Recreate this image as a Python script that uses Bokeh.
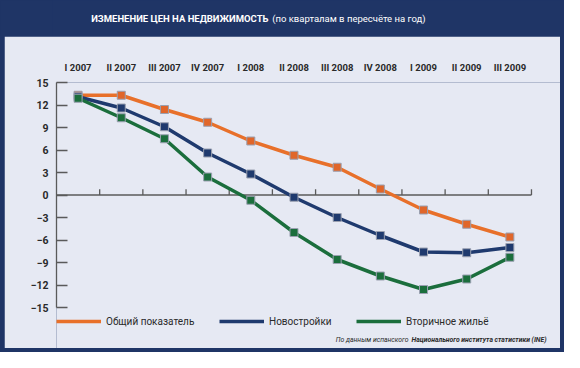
from bokeh.plotting import figure
from bokeh.layouts import column
from bokeh.models import Range1d, FixedTicker, Legend, LegendItem, Label
from bokeh.core.properties import value
from bokeh.embed import file_html
from bokeh.resources import INLINE

# ---------------- data ----------------
quarters = ["I 2007", "II 2007", "III 2007", "IV 2007", "I 2008", "II 2008",
            "III 2008", "IV 2008", "I 2009", "II 2009", "III 2009"]
overall = [13.3, 13.3, 11.4, 9.7, 7.2, 5.3, 3.7, 0.8, -2.0, -3.9, -5.6]
new_build = [13.1, 11.6, 9.1, 5.6, 2.8, -0.3, -3.0, -5.4, -7.6, -7.7, -7.0]
secondary = [12.9, 10.3, 7.5, 2.4, -0.7, -5.0, -8.6, -10.8, -12.6, -11.2, -8.3]
y_ticks = [-15, -12, -9, -6, -3, 0, 3, 6, 9, 12, 15]
y_tick_labels = ["−15", "−12", "−9", "−6", "−3", "0", "3", "6", "9", "12", "15"]
series_names = ["Общий показатель", "Новостройки", "Вторичное жильё"]
title_bold = "ИЗМЕНЕНИЕ ЦЕН НА НЕДВИЖИМОСТЬ"
title_rest = "(по кварталам в пересчёте на год)"
source_plain = "По данным испанского"
source_bold = "Национального института статистики (INE)"

# ---------------- style ----------------
NAVY_BG = "#1f3566"
PANEL = "#e6e9f3"
TXT = "#2a2a2a"
AX = "#5a5a5a"
FONT = "Roboto"
c_over, c_new, c_sec = "#e8702a", "#1f3a6e", "#1b6e3c"
m_over, m_new, m_sec = "#e0662a", "#1f3a6e", "#1b6e3c"

W, H = 564, 352
TITLE_H = 36
MW, MH = W - 8, H - TITLE_H - 4          # main figure (inside navy frame)
FL, FT = 52, 46                           # frame offsets inside main figure
PX_X = 43.18                              # px per category step
PX_Y = 7.5                                # px per y unit
n = len(quarters)
x_end = -0.5 + (MW - FL) / PX_X
y_start = -15 - (MH - FT - 30 * PX_Y) / PX_Y

# ---------------- title band ----------------
t = figure(width=W, height=TITLE_H, output_backend="svg", toolbar_location=None,
           x_range=Range1d(0, W), y_range=Range1d(0, TITLE_H),
           x_axis_location=None, y_axis_location=None, min_border=0)
t.background_fill_color = NAVY_BG
t.border_fill_color = NAVY_BG
t.outline_line_color = None
t.grid.visible = False
t.text(x=[238], y=[TITLE_H - 17.5], text=[title_bold], text_font=value(FONT),
       text_font_style="bold", text_font_size="9.5px", text_color="white",
       text_align="right", text_baseline="middle")
t.text(x=[242], y=[TITLE_H - 17.5], text=[title_rest], text_font=value(FONT),
       text_font_style="normal", text_font_size="9.5px", text_color="white",
       text_align="left", text_baseline="middle")

# ---------------- main chart ----------------
p = figure(width=MW, height=MH, output_backend="svg", toolbar_location=None,
           x_range=Range1d(-0.5, x_end), y_range=Range1d(y_start, 15),
           x_axis_location="above",
           min_border_left=FL, min_border_right=0,
           min_border_top=FT, min_border_bottom=0)
p.margin = (0, 4, 4, 4)
p.border_fill_color = PANEL
p.background_fill_color = PANEL
p.outline_line_color = None
p.grid.visible = False

xa = p.xaxis[0]
xa.ticker = FixedTicker(ticks=list(range(n)))
xa.major_label_overrides = {i: q for i, q in enumerate(quarters)}
xa.axis_line_color = None
xa.major_tick_line_color = None
xa.minor_tick_line_color = None
xa.major_label_standoff = 4
xa.major_label_text_font = FONT
xa.major_label_text_font_style = "bold"
xa.major_label_text_font_size = "9.5px"
xa.major_label_text_color = TXT

ya = p.yaxis[0]
ya.ticker = FixedTicker(ticks=y_ticks)
ya.bounds = (y_ticks[0], y_ticks[-1])
ya.major_label_overrides = {tk: lb for tk, lb in zip(y_ticks, y_tick_labels)}
ya.major_tick_in = 11
ya.major_tick_out = 0
ya.minor_tick_line_color = None
ya.axis_line_color = AX
ya.major_tick_line_color = AX
ya.axis_line_width = 1.3
ya.major_tick_line_width = 1.3
ya.major_label_standoff = 8
ya.major_label_text_font = FONT
ya.major_label_text_font_style = "bold"
ya.major_label_text_font_size = "10.5px"
ya.major_label_text_color = TXT

# zero line with small ticks between quarters
p.segment(x0=[-0.5], y0=[0], x1=[n - 0.5], y1=[0], line_color=AX, line_width=1.3)
tick_x = [i + 0.5 for i in range(n)]
p.segment(x0=tick_x, y0=[0] * n, x1=tick_x, y1=[0.78] * n,
          line_color=AX, line_width=1.3)

xs = list(range(n))
line_renderers = []
for vals, lc, mc in [(overall, c_over, m_over), (new_build, c_new, m_new),
                     (secondary, c_sec, m_sec)]:
    line_renderers.append(p.line(xs, vals, line_color=lc, line_width=3.5))
    p.scatter(xs, vals, marker="square", size=8, fill_color=mc,
              line_color="#9aa0b0", line_width=1)

# legends (separate so each sits at its own place)
leg_x = [0, 163, 300]
for name, r, lx in zip(series_names, line_renderers, leg_x):
    lg = Legend(items=[LegendItem(label=name, renderers=[r])],
                location=(lx, 20), orientation="horizontal",
                padding=0, margin=0, glyph_width=45, glyph_height=14,
                label_height=14, label_standoff=5,
                background_fill_alpha=0, border_line_color=None,
                label_text_font=FONT, label_text_font_size="10px",
                label_text_color=TXT)
    p.add_layout(lg, "center")

# source note (frame-relative screen units)
p.add_layout(Label(x=352, y=8.5, x_units="screen", y_units="screen",
                   text=source_plain, text_font=FONT, text_font_style="italic",
                   text_font_size="6.8px", text_color=TXT,
                   text_baseline="middle", text_align="right"))
p.add_layout(Label(x=355, y=8.5, x_units="screen", y_units="screen",
                   text=source_bold, text_font=FONT, text_font_style="bold italic",
                   text_font_size="6.8px", text_color=TXT,
                   text_baseline="middle", text_align="left"))

layout = column(t, p, styles={"background-color": NAVY_BG})
open("out.html", "w").write(file_html(layout, INLINE))
